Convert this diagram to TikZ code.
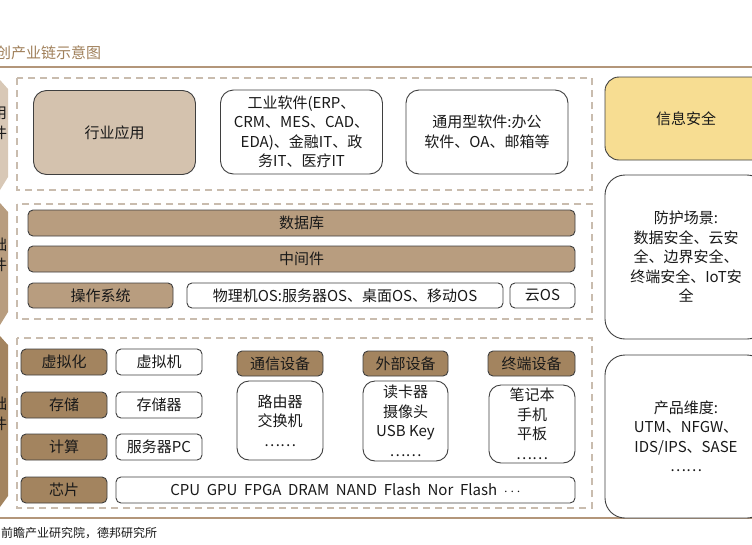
\documentclass[tikz,border=0pt]{standalone}
\usepackage{fontspec}
\setmainfont{Noto Sans CJK SC}
\definecolor{rulebrown}{HTML}{B3967A}
\definecolor{titlebrown}{HTML}{A0805A}
\definecolor{dashtan}{HTML}{C9BCAE}
\definecolor{edgegray}{HTML}{3F3F3F}
\definecolor{apptan}{HTML}{D4C2AE}
\definecolor{midtan}{HTML}{B89D7F}
\definecolor{hwbrown}{HTML}{A3845F}
\definecolor{secyellow}{HTML}{F7DD92}
\definecolor{sidelight}{HTML}{D8C8B6}
\tikzset{
  layer/.style={draw=dashtan, line width=1.8pt, dash pattern=on 7pt off 5pt},
  cell/.style={draw=edgegray, line width=0.9pt, rounded corners=5pt, inner sep=0pt,
    align=center, font=\fontsize{15}{19.5}\selectfont, text=black!90},
  tancell/.style={cell, fill=midtan},
  hwcell/.style={cell, fill=hwbrown, minimum width=86pt, minimum height=26pt},
  whitecell/.style={cell, fill=white},
  bigcell/.style={cell, rounded corners=13pt, minimum width=162pt, minimum height=84pt},
  seccell/.style={cell, fill=white, rounded corners=20pt, minimum width=162pt, minimum height=164pt},
  sidelabel/.style={inner sep=0pt, align=center, font=\fontsize{15}{20}\selectfont, text=black!90}
}
\begin{document}
\begin{tikzpicture}[x=1pt,y=-1pt]
    \clip (0,0) rectangle (752,544);
    \fill[white] (0,0) rectangle (752,544);

    % title and rules
    \node[anchor=west, inner sep=0pt, text=titlebrown, font=\fontsize{15}{15}\selectfont] (title) at (-19,53) {信创产业链示意图};
    \draw[rulebrown, line width=2pt] (0,67) -- (752,67);
    \draw[rulebrown, line width=2pt] (0,518) -- (752,518);
    \node[anchor=west, inner sep=0pt, font=\fontsize{12}{12}\selectfont, text=black!90] (source) at (1,533) {前瞻产业研究院，德邦研究所};

    % side bands (cut off at the left)
    \fill[sidelight] (-40,80) -- (0,80) -- (8,89) -- (8,177) -- (0,190) -- (-40,190) -- cycle;
    \fill[midtan] (-40,203) -- (0,203) -- (8,212) -- (8,312) -- (0,325) -- (-40,325) -- cycle;
    \fill[hwbrown] (-40,336) -- (0,336) -- (8,345) -- (8,496) -- (0,507) -- (-40,507) -- cycle;
    \node[sidelabel] (sideapp) at (-8,123) {应用\\软件};
    \node[sidelabel] (sidebase) at (-8,255) {基础\\软件};
    \node[sidelabel] (sidehw) at (-8,414) {基础\\硬件};

    % layers
    \draw[layer] (17,78) rectangle (592,190);
    \draw[layer] (17,204) rectangle (592,319);
    \draw[layer] (17,338) rectangle (592,508);

    % application software
    \node[bigcell, fill=apptan] (industry) at (114.5,132.5) {行业应用};
    \node[bigcell, fill=white] (indsw) at (301.5,132) {工业软件(ERP、\\CRM、MES、CAD、\\EDA)、金融IT、政\\务IT、医疗IT};
    \node[bigcell, fill=white] (gensw) at (487,132) {通用型软件:办公\\软件、OA、邮箱等};

    % base software
    \node[tancell, minimum width=547pt, minimum height=26pt] (database) at (301.5,223) {数据库};
    \node[tancell, minimum width=547pt, minimum height=26pt] (middleware) at (301.5,259) {中间件};
    \node[tancell, minimum width=145pt, minimum height=25pt] (os) at (100.5,295.5) {操作系统};
    \node[whitecell, minimum width=316pt, minimum height=25pt] (physos) at (345,295.5) {物理机OS:服务器OS、桌面OS、移动OS};
    \node[whitecell, minimum width=65pt, minimum height=25pt] (cloudos) at (542.5,295.5) {云OS};

    % base hardware
    \node[hwcell] (virt) at (64,362) {虚拟化};
    \node[hwcell] (storage) at (64,405) {存储};
    \node[hwcell] (compute) at (64,447) {计算};
    \node[hwcell] (chip) at (64,490) {芯片};
    \node[whitecell, minimum width=86pt, minimum height=26pt] (vm) at (159,362) {虚拟机};
    \node[whitecell, minimum width=86pt, minimum height=26pt] (storer) at (159,405) {存储器};
    \node[whitecell, minimum width=86pt, minimum height=26pt] (server) at (159,447) {服务器PC};
    \node[whitecell, minimum width=459pt, minimum height=26pt] (chips) at (345.5,490) {CPU\ \ GPU\ \ FPGA\ \ DRAM\ \ NAND\ \ Flash\ \ Nor\ \ Flash\ \ $\cdots$};

    \node[hwcell, minimum height=25pt] (comm) at (280,363.5) {通信设备};
    \node[hwcell, minimum width=85pt, minimum height=25pt] (periph) at (405.5,363.5) {外部设备};
    \node[hwcell, minimum width=87pt, minimum height=25pt] (terminal) at (531.5,363.5) {终端设备};
    \node[whitecell, rounded corners=12pt, minimum width=86pt, minimum height=79pt] (commlist) at (280,420.5) {路由器\\交换机\\……};
    \node[whitecell, rounded corners=12pt, minimum width=85pt, minimum height=80pt] (periphlist) at (405.5,421) {读卡器\\摄像头\\USB Key\\……};
    \node[whitecell, rounded corners=12pt, minimum width=86pt, minimum height=78pt] (termlist) at (532,424) {笔记本\\手机\\平板\\……};

    % information security
    \node[cell, fill=secyellow, rounded corners=14pt, minimum width=162pt, minimum height=83pt] (infosec) at (686,118.5) {信息安全};
    \node[seccell] (scenes) at (686,257) {防护场景:\\数据安全、云安\\全、边界安全、\\终端安全、IoT安\\全};
    \node[seccell, minimum height=163pt] (products) at (686,436.5) {产品维度:\\UTM、NFGW、\\IDS/IPS、SASE\\……};
\end{tikzpicture}
\end{document}
